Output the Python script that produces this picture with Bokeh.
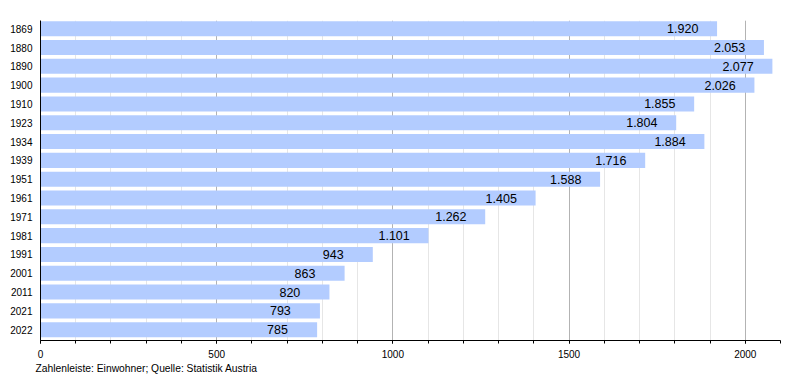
from bokeh.plotting import figure
from bokeh.models import Range1d, SingleIntervalTicker, FixedTicker, Title, ColumnDataSource
from bokeh.embed import file_html
from bokeh.resources import INLINE
from bokeh.core.properties import value

years = ["1869", "1880", "1890", "1900", "1910", "1923", "1934", "1939", "1951",
         "1961", "1971", "1981", "1991", "2001", "2011", "2021", "2022"]
population = [1920, 2053, 2077, 2026, 1855, 1804, 1884, 1716, 1588,
              1405, 1262, 1101, 943, 863, 820, 793, 785]
footer_text = "Zahlenleiste: Einwohner; Quelle: Statistik Austria"

n = len(years)
ypos = [n - 1 - i for i in range(n)]
labels = [f"{v:,}".replace(",", ".") for v in population]
src = ColumnDataSource(dict(y=ypos, v=population, lab=labels))

FONT = "Liberation Sans"

p = figure(width=800, height=380, output_backend="svg", toolbar_location=None,
           x_range=Range1d(0, 2100), y_range=Range1d(-0.574, n - 1 + 0.436),
           min_border_left=40, min_border_right=20, min_border_top=20, min_border_bottom=40)
p.outline_line_color = None
p.background_fill_color = "white"

p.hbar(y="y", right="v", left=0, height=0.8, source=src,
       fill_color="#b3ccff", line_color=None)
p.text(x="v", y="y", text="lab", source=src, x_offset=-50,
       text_align="left", text_baseline="middle",
       text_font=value(FONT), text_font_size="12.5px", text_color="black")

ticker = SingleIntervalTicker(interval=500, num_minor_ticks=5)
p.xaxis.ticker = ticker
p.xgrid.ticker = ticker
p.xgrid.grid_line_color = "#b3b3b3"
p.xgrid.minor_grid_line_color = "#e6e6e6"
p.ygrid.grid_line_color = None

xa = p.xaxis[0]
xa.axis_line_color = "black"
xa.major_tick_line_color = "black"
xa.minor_tick_line_color = "black"
xa.major_tick_out = 3
xa.major_tick_in = 0
xa.minor_tick_out = 3
xa.minor_tick_in = 0
xa.major_label_standoff = 6
xa.major_label_text_font = FONT
xa.major_label_text_font_size = "10px"
xa.major_label_text_color = "black"

ya = p.yaxis[0]
ya.ticker = FixedTicker(ticks=ypos)
ya.major_label_overrides = {y: yr for y, yr in zip(ypos, years)}
ya.axis_line_color = "black"
ya.major_tick_line_color = None
ya.minor_tick_line_color = None
ya.major_tick_out = 0
ya.major_tick_in = 0
ya.major_label_standoff = 8
ya.major_label_text_font = FONT
ya.major_label_text_font_size = "10px"
ya.major_label_text_color = "black"

p.add_layout(Title(text=footer_text, align="left", offset=-5, standoff=0,
                   text_font=FONT, text_font_size="10.3px", text_font_style="normal",
                   text_color="black"), "below")

open("out.html", "w").write(file_html(p, INLINE))
